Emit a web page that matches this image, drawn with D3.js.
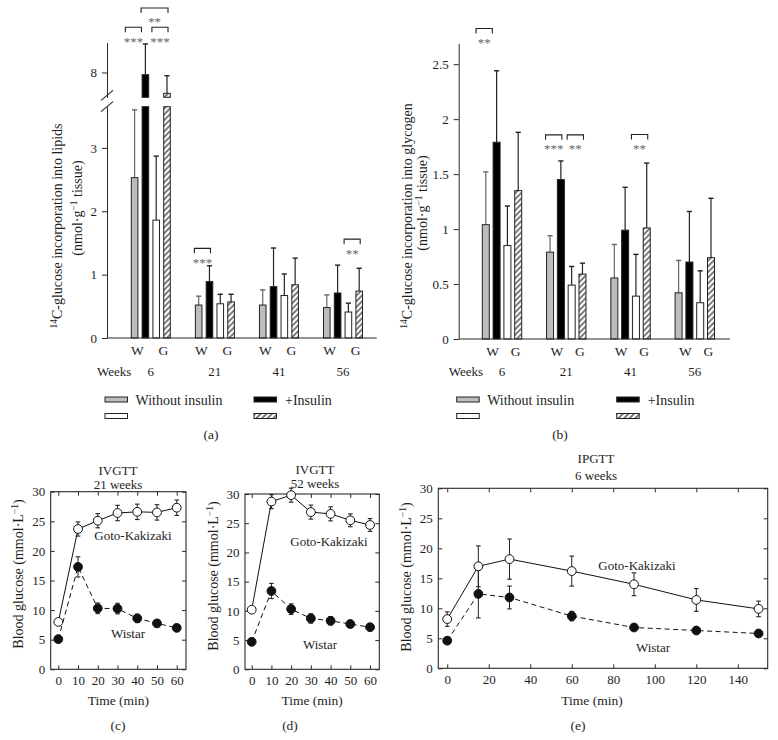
<!DOCTYPE html>
<html><head><meta charset="utf-8">
<script src="https://cdn.jsdelivr.net/npm/d3@7"></script>
<style>
body{margin:0;background:#fff;}
svg text{font-family:"Liberation Serif","Times New Roman",serif;fill:#1e1e1e;}
</style></head><body>
<svg id="chart" width="778" height="740"></svg>
<script>
// ---------- DATA ----------
const weeks = ["6", "21", "41", "56"];
const barGroups = ["W", "G"];
const legendLabels = ["Without insulin", "+Insulin"];

// (a) 14C-glucose incorporation into lipids
const lipidWistar      = [2.53, 0.52, 0.52, 0.48];
const lipidWistarSd    = [1.07, 0.14, 0.24, 0.20];
const lipidWistarIns   = [7.91, 0.89, 0.81, 0.71];
const lipidWistarInsSd = [1.24, 0.25, 0.61, 0.44];
const lipidGK          = [1.86, 0.54, 0.67, 0.41];
const lipidGKSd        = [1.01, 0.15, 0.34, 0.14];
const lipidGKIns       = [7.16, 0.57, 0.84, 0.74];
const lipidGKInsSd     = [0.71, 0.12, 0.42, 0.36];
const lipidTicksLow = [0, 1, 2, 3];
const lipidTicksHigh = [8];

// (b) 14C-glucose incorporation into glycogen
const glyWistar      = [1.04, 0.79, 0.555, 0.42];
const glyWistarSd    = [0.48, 0.15, 0.305, 0.295];
const glyWistarIns   = [1.79, 1.45, 0.99, 0.70];
const glyWistarInsSd = [0.65, 0.17, 0.39, 0.46];
const glyGK          = [0.85, 0.49, 0.39, 0.33];
const glyGKSd        = [0.36, 0.17, 0.38, 0.29];
const glyGKIns       = [1.35, 0.59, 1.01, 0.74];
const glyGKInsSd     = [0.53, 0.10, 0.59, 0.54];
const glyTicks = [0, 0.5, 1, 1.5, 2, 2.5];

// significance brackets (series index from/to, level in data units, leftward nudge flag)
const lipidSig = [
  {week: "6", from: 0, to: 1, label: "***", level: 9.82, nudge: true},
  {week: "6", from: 2, to: 3, label: "***", level: 9.82},
  {week: "6", from: 1, to: 3, label: "**", level: 10.6},
  {week: "21", from: 0, to: 1, label: "***", level: 1.415},
  {week: "56", from: 2, to: 3, label: "**", level: 1.56}
];
const glySig = [
  {week: "6", from: 0, to: 1, label: "**", level: 2.825, nudge: true},
  {week: "21", from: 0, to: 1, label: "***", level: 1.857},
  {week: "21", from: 2, to: 3, label: "**", level: 1.857},
  {week: "41", from: 2, to: 3, label: "**", level: 1.86}
];

// (c) IVGTT 21 weeks
const ivgttTime = [0, 10, 20, 30, 40, 50, 60];
const ivgtt21GK   = [8.0, 23.7, 25.1, 26.4, 26.6, 26.5, 27.3];
const ivgtt21GKSd = [0.5, 1.2, 1.2, 1.3, 1.3, 1.3, 1.3];
const ivgtt21W    = [5.1, 17.3, 10.3, 10.25, 8.6, 7.75, 7.0];
const ivgtt21WSd  = [0.4, 1.7, 0.9, 0.9, 0.7, 0.5, 0.4];
// (d) IVGTT 52 weeks
const ivgtt52GK   = [10.2, 28.7, 29.8, 26.9, 26.6, 25.5, 24.7];
const ivgtt52GKSd = [0.5, 1.2, 1.2, 1.2, 1.2, 1.1, 1.1];
const ivgtt52W    = [4.7, 13.4, 10.3, 8.7, 8.3, 7.75, 7.2];
const ivgtt52WSd  = [0.4, 1.3, 0.9, 0.8, 0.7, 0.6, 0.4];
// (e) IPGTT 6 weeks
const ipgttTime = [0, 15, 30, 60, 90, 120, 150];
const ipgttGK   = [8.2, 17.0, 18.2, 16.2, 14.0, 11.4, 9.9];
const ipgttGKSd = [1.2, 3.4, 3.35, 2.5, 1.9, 1.9, 1.3];
const ipgttW    = [4.6, 12.4, 11.8, 8.7, 6.8, 6.3, 5.8];
const ipgttWSd  = [0.3, 4.0, 1.9, 0.8, 0.3, 0.3, 0.3];
const glucoseTicks = [0, 5, 10, 15, 20, 25, 30];
const ivgttTicks = [0, 10, 20, 30, 40, 50, 60];
const ipgttTicks = [0, 20, 40, 60, 80, 100, 120, 140];

// ---------- SETUP ----------
const svg = d3.select("#chart");
svg.append("rect").attr("width", 778).attr("height", 740).attr("fill", "#fff");
const defs = svg.append("defs");
const pat = defs.append("pattern").attr("id", "hatch").attr("patternUnits", "userSpaceOnUse")
  .attr("width", 4).attr("height", 4).attr("patternTransform", "rotate(45)");
pat.append("rect").attr("width", 4).attr("height", 4).attr("fill", "#fff");
pat.append("line").attr("x1", 1).attr("y1", 0).attr("x2", 1).attr("y2", 4)
  .attr("stroke", "#111").attr("stroke-width", 1.1);

const fills = ["#bdbdbd", "#000", "#fff", "url(#hatch)"];
const errColors = ["#666", "#222", "#222", "#222"];
const INK = "#2a2a2a";

function styleAxis(g, size) {
  g.attr("font-family", null).attr("font-size", null);
  g.selectAll("text").style("font-size", size + "px").attr("fill", "#1e1e1e");
  g.selectAll("line").attr("stroke", INK);
  g.selectAll("path").attr("stroke", INK);
}

function rotLabel(x, y, parts, size) {
  const t = svg.append("text").attr("transform", `translate(${x},${y}) rotate(-90)`)
    .attr("text-anchor", "middle").style("font-size", size + "px");
  parts.forEach(p => {
    if (p.sup) {
      t.append("tspan").attr("baseline-shift", "super").style("font-size", (size * 0.68) + "px").text(p.t);
    } else {
      t.append("tspan").text(p.t);
    }
  });
}

// ---------- BAR PANELS ----------
function barPanel(cfg) {
  const g = svg.append("g");
  const outer = d3.scalePoint().domain(weeks).range(cfg.centerRange);
  const inner = d3.scaleBand().domain([0, 1, 2, 3]).range([-21.6, 21.6])
    .paddingInner(cfg.padIn).paddingOuter(cfg.padOut);
  const bw = inner.bandwidth();
  const yLow = cfg.yLow, yUp = cfg.yUp, cut = cfg.cut;
  const broken = v => yUp && v > cut;
  const yOf = v => broken(v) ? yUp(v) : yLow(v);

  cfg.series.forEach((vals, si) => {
    vals.forEach((v, wi) => {
      const x0 = outer(weeks[wi]) + inner(si);
      const cx = x0 + bw / 2;
      const sd = cfg.sds[si][wi];
      // error bar (upward only)
      g.append("line").attr("x1", cx).attr("x2", cx).attr("y1", yOf(v)).attr("y2", yOf(v + sd))
        .attr("stroke", errColors[si]).attr("stroke-width", 1.2);
      g.append("line").attr("x1", cx - 2.6).attr("x2", cx + 2.6).attr("y1", yOf(v + sd)).attr("y2", yOf(v + sd))
        .attr("stroke", errColors[si]).attr("stroke-width", 1.4);
      const segs = broken(v)
        ? [[yLow(cut), yLow(0)], [yUp(v), yUp(yUp.domain()[0])]]
        : [[yLow(v), yLow(0)]];
      segs.forEach(s => {
        g.append("rect").attr("x", x0).attr("y", s[0]).attr("width", bw).attr("height", s[1] - s[0])
          .attr("fill", fills[si]).attr("stroke", "#222").attr("stroke-width", 1);
      });
    });
  });

  // x-axis baseline
  g.append("line").attr("x1", cfg.axisX).attr("x2", cfg.axisEnd).attr("y1", yLow(0)).attr("y2", yLow(0))
    .attr("stroke", INK).attr("stroke-width", 1.2);

  // W / G labels and weeks row
  weeks.forEach(w => {
    barGroups.forEach((lab, i) => {
      g.append("text").attr("x", outer(w) + cfg.labelOffsets[i]).attr("y", yLow(0) + 17)
        .attr("text-anchor", "middle").style("font-size", "13.5px").text(lab);
    });
    g.append("text").attr("x", outer(w)).attr("y", 375.5).attr("text-anchor", "middle")
      .style("font-size", "13px").text(w);
  });
  g.append("text").attr("x", cfg.axisX - 10).attr("y", 375.5).style("font-size", "13px").text("Weeks");

  // significance brackets
  cfg.sig.forEach(s => {
    const c = outer(s.week);
    const nd = s.nudge ? bw * 0.75 : 0;
    const x1 = c + inner(s.from) - 1 - nd;
    const x2 = c + inner(s.to) + bw / 2 + 1 - nd;
    const y = yOf(s.level);
    g.append("path").attr("d", `M${x1},${y + 5}V${y}H${x2}V${y + 5}`)
      .attr("fill", "none").attr("stroke", "#222").attr("stroke-width", 1.1);
    g.append("text").attr("x", (x1 + x2) / 2).attr("y", y + 18.5).attr("text-anchor", "middle")
      .style("font-size", "13px").style("fill", "#666").text(s.label);
  });

  // legend
  const lx = [cfg.axisX - 2, cfg.legendCol2];
  const rows = [397, 413.5];
  [[0, 0], [0, 1], [1, 0], [1, 1]].forEach(([col, row]) => {
    const si = col === 0 ? (row === 0 ? 0 : 2) : (row === 0 ? 1 : 3);
    g.append("rect").attr("x", lx[col]).attr("y", rows[row]).attr("width", 22.5).attr("height", 5)
      .attr("fill", fills[si]).attr("stroke", "#222").attr("stroke-width", 1);
  });
  g.append("text").attr("x", lx[0] + 30.5).attr("y", 404.5).style("font-size", "14px").text(legendLabels[0]);
  g.append("text").attr("x", lx[1] + 31).attr("y", 404.5).style("font-size", "14px").text(legendLabels[1]);
  g.append("text").attr("x", cfg.letterX).attr("y", 439).attr("text-anchor", "middle")
    .style("font-size", "13.5px").text(cfg.letter);
  return g;
}

// (a)
const aAxisX = 107;
const yLowA = d3.scaleLinear().domain([0, 3.65]).range([338, 106.7]);
const yUpA = d3.scaleLinear().domain([7, 9.2]).range([97.3, 42.7]);
barPanel({
  centerRange: [150.8, 343], padIn: 0.389, padOut: 0.1945,
  yLow: yLowA, yUp: yUpA, cut: 3.65,
  series: [lipidWistar, lipidWistarIns, lipidGK, lipidGKIns],
  sds: [lipidWistarSd, lipidWistarInsSd, lipidGKSd, lipidGKInsSd],
  axisX: aAxisX, axisEnd: 376.7, labelOffsets: [-13.5, 12.5],
  sig: lipidSig, legendCol2: 254, letterX: 211, letter: "(a)"
});
const axA1 = svg.append("g").attr("transform", `translate(${aAxisX},0)`)
  .call(d3.axisLeft(yLowA).tickValues(lipidTicksLow).tickFormat(d3.format("d")).tickSize(5).tickSizeOuter(0).tickPadding(5));
styleAxis(axA1, 13);
const axA2 = svg.append("g").attr("transform", `translate(${aAxisX},0)`)
  .call(d3.axisLeft(yUpA).tickValues(lipidTicksHigh).tickFormat(d3.format("d")).tickSize(5).tickSizeOuter(0).tickPadding(5));
styleAxis(axA2, 13);
[yUpA.range()[0] - 2, yLowA.range()[1]].forEach(yc => {
  svg.append("line").attr("x1", aAxisX - 6).attr("x2", aAxisX + 6).attr("y1", yc + 5).attr("y2", yc - 5)
    .attr("stroke", INK).attr("stroke-width", 1.1);
});
rotLabel(62, 226, [{t: "14", sup: true}, {t: "C-glucose incorporation into lipids"}], 14);
rotLabel(82, 208, [{t: "(nmol·g"}, {t: "−1", sup: true}, {t: " tissue)"}], 14);

// (b)
const bAxisX = 458.7;
const yB = d3.scaleLinear().domain([0, 2.69]).range([339, 43.3]);
barPanel({
  centerRange: [502, 694.8], padIn: 0.352, padOut: 0.176,
  yLow: yB, yUp: null, cut: Infinity,
  series: [glyWistar, glyWistarIns, glyGK, glyGKIns],
  sds: [glyWistarSd, glyWistarInsSd, glyGKSd, glyGKInsSd],
  axisX: bAxisX, axisEnd: 730, labelOffsets: [-9.5, 13.5],
  sig: glySig, legendCol2: 616.7, letterX: 560, letter: "(b)"
});
const axB = svg.append("g").attr("transform", `translate(${bAxisX},0)`)
  .call(d3.axisLeft(yB).tickValues(glyTicks).tickFormat(d => String(d)).tickSize(5).tickSizeOuter(0).tickPadding(5));
styleAxis(axB, 13);
rotLabel(412, 216, [{t: "14", sup: true}, {t: "C-glucose incorporation into glycogen"}], 14);
rotLabel(427, 203, [{t: "(nmol·g"}, {t: "−1", sup: true}, {t: " tissue)"}], 14);

// ---------- LINE PANELS ----------
function linePanel(cfg) {
  const g = svg.append("g");
  const x = d3.scaleLinear().domain(cfg.xDomain).range(cfg.xRange);
  const y = d3.scaleLinear().domain([0, 30]).range(cfg.yRange);
  const [x0, x1] = cfg.xRange, [yb, yt] = cfg.yRange;

  const axes = [
    [d3.axisBottom(x).tickValues(cfg.xTicks).tickSize(-4).tickPadding(6.5), `translate(0,${yb})`],
    [d3.axisTop(x).tickValues(cfg.xTicks).tickSize(-4).tickFormat(""), `translate(0,${yt})`],
    [d3.axisLeft(y).tickValues(glucoseTicks).tickSize(-4).tickPadding(5.5), `translate(${x0},0)`],
    [d3.axisRight(y).tickValues(glucoseTicks).tickSize(-4).tickFormat(""), `translate(${x1},0)`]
  ];
  axes.forEach(([ax, tr]) => {
    const a = g.append("g").attr("transform", tr).call(ax);
    a.select(".domain").remove();
    styleAxis(a, 13);
  });
  g.append("rect").attr("x", x0).attr("y", yt).attr("width", x1 - x0).attr("height", yb - yt)
    .attr("fill", "none").attr("stroke", INK).attr("stroke-width", 1.1);

  const line = d3.line().x((d, i) => x(cfg.t[i])).y(d => y(d));
  g.append("path").attr("d", line(cfg.w)).attr("fill", "none").attr("stroke", "#111")
    .attr("stroke-width", 1).attr("stroke-dasharray", "5,3.5");
  g.append("path").attr("d", line(cfg.gk)).attr("fill", "none").attr("stroke", "#111").attr("stroke-width", 1);

  [[cfg.w, cfg.wSd], [cfg.gk, cfg.gkSd]].forEach(([vals, sds]) => {
    vals.forEach((v, i) => {
      const cx = x(cfg.t[i]);
      const lo = y(v - sds[i]), hi = y(v + sds[i]);
      g.append("line").attr("x1", cx).attr("x2", cx).attr("y1", lo).attr("y2", hi).attr("stroke", "#222").attr("stroke-width", 1);
      [lo, hi].forEach(yy => g.append("line").attr("x1", cx - 2.3).attr("x2", cx + 2.3).attr("y1", yy).attr("y2", yy)
        .attr("stroke", "#222").attr("stroke-width", 1.1));
    });
  });
  cfg.w.forEach((v, i) => g.append("circle").attr("cx", x(cfg.t[i])).attr("cy", y(v)).attr("r", 4.4)
    .attr("fill", "#111").attr("stroke", "#111").attr("stroke-width", 1));
  cfg.gk.forEach((v, i) => g.append("circle").attr("cx", x(cfg.t[i])).attr("cy", y(v)).attr("r", 4.4)
    .attr("fill", "#fff").attr("stroke", "#111").attr("stroke-width", 1));

  const tc = cfg.titleX;
  g.append("text").attr("x", tc).attr("y", cfg.titleY[0]).attr("text-anchor", "middle").style("font-size", "13px").text(cfg.title[0]);
  g.append("text").attr("x", tc).attr("y", cfg.titleY[1]).attr("text-anchor", "middle").style("font-size", "13px").text(cfg.title[1]);
  g.append("text").attr("x", cfg.gkLab[0]).attr("y", cfg.gkLab[1]).attr("text-anchor", "middle").style("font-size", "13px").text("Goto-Kakizaki");
  g.append("text").attr("x", cfg.wLab[0]).attr("y", cfg.wLab[1]).attr("text-anchor", "middle").style("font-size", "13px").text("Wistar");
  g.append("text").attr("x", (x0 + x1) / 2 + cfg.timeDx).attr("y", 704.5).attr("text-anchor", "middle").style("font-size", "13.5px").text("Time (min)");
  g.append("text").attr("x", cfg.letterX).attr("y", 730).attr("text-anchor", "middle").style("font-size", "13.5px").text(cfg.letter);
  rotLabel(cfg.yLabX, cfg.yLabY, [{t: "Blood glucose (mmol·L"}, {t: "−1", sup: true}, {t: ")"}], 14);
}

linePanel({
  t: ivgttTime, gk: ivgtt21GK, gkSd: ivgtt21GKSd, w: ivgtt21W, wSd: ivgtt21WSd,
  xDomain: [-3.85, 64.7], xRange: [50.7, 186], yRange: [669.3, 491.7], xTicks: ivgttTicks,
  title: ["IVGTT", "21 weeks"], titleX: 118, titleY: [475, 489],
  gkLab: [133, 540], wLab: [128, 638], timeDx: 0, letterX: 118, letter: "(c)",
  yLabX: 23, yLabY: 574
});
linePanel({
  t: ivgttTime, gk: ivgtt52GK, gkSd: ivgtt52GKSd, w: ivgtt52W, wSd: ivgtt52WSd,
  xDomain: [-3.4, 64.7], xRange: [245, 379.3], yRange: [669.3, 494], xTicks: ivgttTicks,
  title: ["IVGTT", "52 weeks"], titleX: 315, titleY: [474, 488],
  gkLab: [329, 546], wLab: [320, 649], timeDx: 0, letterX: 290, letter: "(d)",
  yLabX: 218, yLabY: 576
});
linePanel({
  t: ipgttTime, gk: ipgttGK, gkSd: ipgttGKSd, w: ipgttW, wSd: ipgttWSd,
  xDomain: [-4.3, 154.4], xRange: [438.3, 767.7], yRange: [668.3, 488.3], xTicks: ipgttTicks,
  title: ["IPGTT", "6 weeks"], titleX: 596, titleY: [463, 480],
  gkLab: [637, 570], wLab: [653, 652], timeDx: -11, letterX: 578, letter: "(e)",
  yLabX: 411, yLabY: 577
});
</script>
</body></html>
